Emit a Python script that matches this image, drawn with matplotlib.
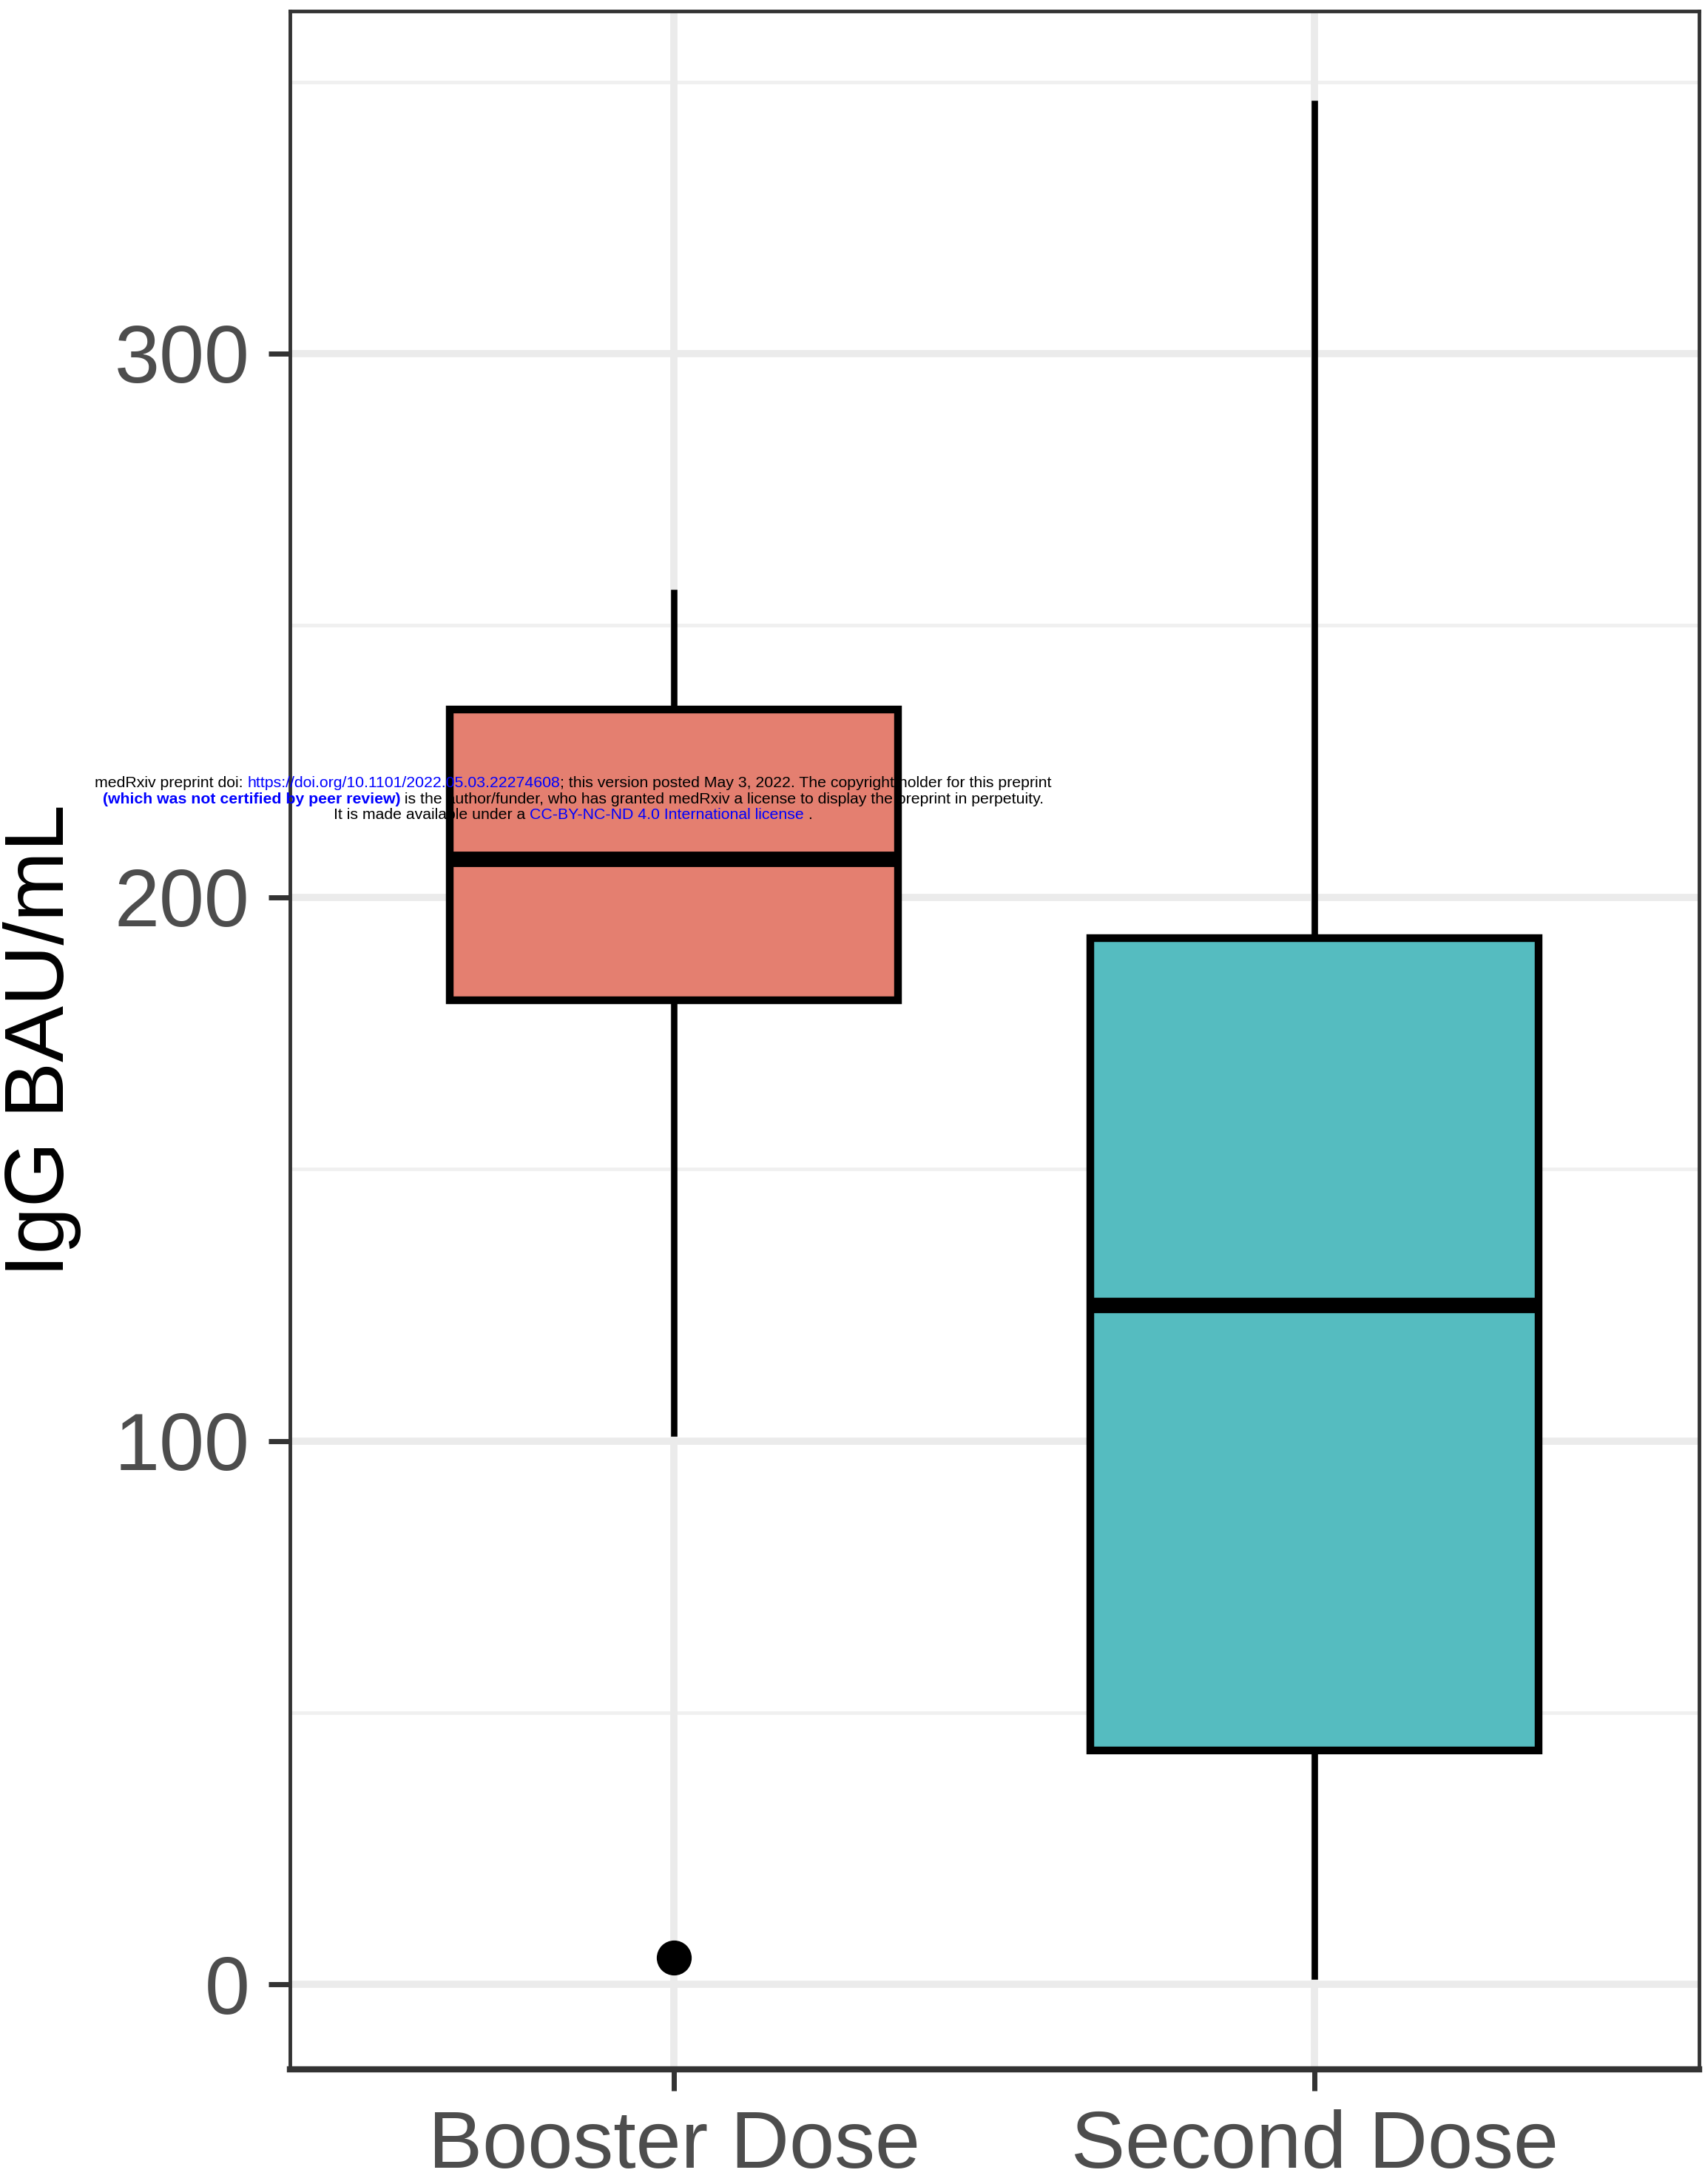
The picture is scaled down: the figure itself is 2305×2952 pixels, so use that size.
import matplotlib.pyplot as plt
import numpy as np

# values
groups = ['Booster Dose', 'Second Dose']
q1 = [181, 43]
medians = [207, 125]
q3 = [234.5, 192.5]
whisker_low = [101.5, 1.5]
whisker_high = [256, 346]
outliers = [[5], []]
box_colors = ['#E47F70', '#55BCC0']

y_ticks = [0, 100, 200, 300]
y_minor = [50, 150, 250, 350]

plt.rcParams['font.family'] = ['Liberation Sans', 'DejaVu Sans']

fig = plt.figure(figsize=(23.05, 29.52), dpi=100)
ax = fig.add_axes([0.170, 0.0525, 0.8265, 0.9424])

# grid like ggplot theme_bw
for v in y_ticks:
    ax.axhline(v, color='#EBEBEB', lw=7, zorder=0)
for v in y_minor:
    ax.axhline(v, color='#F0F0F0', lw=3.5, zorder=0)
for i in range(len(groups)):
    ax.axvline(i + 1, color='#EBEBEB', lw=7, zorder=0)

stats = []
for i, g in enumerate(groups):
    stats.append(dict(label=g, q1=q1[i], med=medians[i], q3=q3[i],
                      whislo=whisker_low[i], whishi=whisker_high[i],
                      fliers=outliers[i]))

bp = ax.bxp(stats, positions=[1, 2], widths=0.7, patch_artist=True,
            showcaps=False,
            boxprops=dict(linewidth=7.5, edgecolor='black'),
            medianprops=dict(linewidth=15, color='black', solid_capstyle='butt'),
            whiskerprops=dict(linewidth=6.2, color='black'),
            flierprops=dict(marker='o', markerfacecolor='black',
                            markeredgecolor='black', markersize=33))
for patch, c in zip(bp['boxes'], box_colors):
    patch.set_facecolor(c)
for w in bp['whiskers']:
    w.set_zorder(1)

ax.set_xlim(0.4, 2.6)
ax.set_ylim(-15.6, 363)
ax.set_yticks(y_ticks)
ax.set_xticks([1, 2])
ax.set_xticklabels(groups)
ax.tick_params(axis='both', labelsize=79, colors='#333333', length=21,
               width=5, labelcolor='#4D4D4D', pad=18)
for s in ax.spines.values():
    s.set_color('#333333')
    s.set_linewidth(3.5)
ax.spines['bottom'].set_linewidth(6)
ax.set_ylabel('IgG BAU/mL', fontsize=82, color='black', labelpad=32)

# medRxiv watermark lines
rend = fig.canvas.get_renderer()
lines = [
    [('medRxiv preprint doi: ', 'black', 'normal'),
     ('https://doi.org/10.1101/2022.05.03.22274608', 'blue', 'normal'),
     ('; this version posted May 3, 2022. The copyright holder for this preprint', 'black', 'normal')],
    [('(which was not certified by peer review)', 'blue', 'bold'),
     (' is the author/funder, who has granted medRxiv a license to display the preprint in perpetuity.', 'black', 'normal')],
    [('It is made available under a ', 'black', 'normal'),
     ('CC-BY-NC-ND 4.0 International license', 'blue', 'normal'),
     (' .', 'black', 'normal')],
]
line_y = [1059, 1080, 1101]
cx = 775
H = 2952
for parts, y in zip(lines, line_y):
    texts = []
    for s, c, w in parts:
        t = fig.text(0, 1 - y / H, s, color=c, fontsize=15.3, fontweight=w,
                     va='center', ha='left', zorder=10)
        texts.append(t)
    widths = [t.get_window_extent(rend).width for t in texts]
    x = cx - sum(widths) / 2
    for t, w in zip(texts, widths):
        t.set_x(x / 2305)
        x += w

fig.savefig('out.png', dpi=100)
